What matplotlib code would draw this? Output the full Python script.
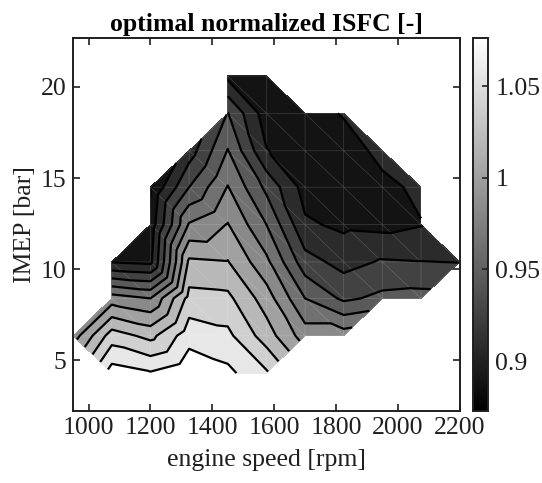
import numpy as np
import matplotlib
matplotlib.use("Agg")
import matplotlib.pyplot as plt
import matplotlib.tri as mtri
from matplotlib.colors import Normalize
from matplotlib.cm import ScalarMappable

plt.rcParams['font.family'] = ['Liberation Serif', 'DejaVu Serif']

# engine speed grid [rpm] and IMEP grid [bar]
speed = [950, 1075, 1200, 1325, 1450, 1575, 1700, 1825, 1950, 2075, 2200]
imep = [4.3, 6.35, 8.4, 10.4, 12.45, 14.5, 16.5, 18.55, 20.6]

nan = np.nan
# optimal normalized ISFC, one list per IMEP row (same order as speed), nan = not measured
isfc_04 = [nan, 1.070, 1.062, 1.075, 1.065, 1.043, nan, nan, nan, nan, nan]
isfc_06 = [0.970, 1.030, 1.014, 1.052, 1.045, 1.010, 0.970, 0.970, nan, nan, nan]
isfc_08 = [nan, 0.970, 0.960, 1.027, 1.025, 0.990, 0.940, 0.916, 0.925, 0.927, nan]
isfc_10 = [nan, 0.879, 0.875, 1.004, 1.001, 0.965, 0.908, 0.893, 0.902, 0.9005, 0.8995]
isfc_12 = [nan, nan, 0.868, 0.962, 0.981, 0.940, 0.883, 0.876, 0.874, 0.879, nan]
isfc_14 = [nan, nan, 0.860, 0.920, 0.961, 0.915, 0.872, 0.868, 0.874, 0.885, nan]
isfc_16 = [nan, nan, nan, 0.890, 0.941, 0.881, 0.868, 0.868, 0.887, nan, nan]
isfc_18 = [nan, nan, nan, nan, 0.921, 0.869, 0.869, 0.882, nan, nan, nan]
isfc_20 = [nan, nan, nan, nan, 0.875, 0.868, nan, nan, nan, nan, nan]

levels = [0.88, 0.90, 0.92, 0.94, 0.96, 0.98, 1.00, 1.02, 1.04, 1.06]
cbar_ticks = [0.9, 0.95, 1.0, 1.05]
cbar_labels = ["0.9", "0.95", "1", "1.05"]
clim = (0.873, 1.0765)

Z = np.array([isfc_04, isfc_06, isfc_08, isfc_10, isfc_12,
              isfc_14, isfc_16, isfc_18, isfc_20])
X, Y = np.meshgrid(speed, imep)
ok = ~np.isnan(Z)
ny, nx = Z.shape

# index of every valid grid point in the compressed point list
idx = -np.ones(Z.shape, dtype=int)
idx[ok] = np.arange(ok.sum())

# triangles from grid cells; cells with one missing corner give one triangle
tris = []
for j in range(ny - 1):
    for i in range(nx - 1):
        corners = [(j, i), (j, i + 1), (j + 1, i + 1), (j + 1, i)]
        valid = [ok[p] for p in corners]
        if all(valid):
            a, b, c, d = [idx[p] for p in corners]
            tris.append([a, b, d])
            tris.append([b, c, d])
        elif sum(valid) == 3:
            tris.append([idx[p] for p, v in zip(corners, valid) if v])

tri = mtri.Triangulation(X[ok], Y[ok], np.array(tris))
z = Z[ok]

FS = 18.5
INK = '#1f1f1f'

fig = plt.figure(figsize=(5.42, 4.83), dpi=100)
ax = fig.add_axes([0.135, 0.150, 0.713, 0.772])

# filled bands: a very dark pocket below 0.866, then one grey per contour band
fill_levels = [0.80, 0.866] + levels + [1.20]
greys = [6 / 255] + [(19 + 23.6 * k) / 255 for k in range(len(levels) + 1)]
ax.tricontourf(tri, z, levels=fill_levels, colors=[(g, g, g) for g in greys])
ax.triplot(tri, color='white', lw=0.5, alpha=0.18)
ax.tricontour(tri, z, levels=levels, colors='k', linewidths=1.6)

ax.set_xlim(950, 2200)
ax.set_ylim(2.25, 22.7)
ax.set_xticks([1000, 1200, 1400, 1600, 1800, 2000, 2200])
ax.set_yticks([5, 10, 15, 20])
ax.tick_params(direction='in', top=True, right=True, length=5,
               labelsize=FS, color=INK, labelcolor=INK, width=1.2, pad=5)
for s in ax.spines.values():
    s.set_linewidth(1.4)
    s.set_color(INK)
ax.set_xlabel("engine speed [rpm]", fontsize=FS, color=INK, labelpad=7)
ax.set_ylabel("IMEP [bar]", fontsize=FS, color=INK, labelpad=3)
ax.set_title("optimal normalized ISFC [-]", fontsize=FS, fontweight='bold', pad=5)

cax = fig.add_axes([0.873, 0.150, 0.028, 0.772])
sm = ScalarMappable(norm=Normalize(*clim), cmap='gray')
cb = fig.colorbar(sm, cax=cax, ticks=cbar_ticks)
cb.ax.set_yticklabels(cbar_labels)
cb.ax.tick_params(direction='in', length=4, labelsize=FS, color=INK,
                  labelcolor=INK, width=1.2, pad=5)
cb.outline.set_linewidth(1.4)
cb.outline.set_edgecolor(INK)

fig.savefig("out.png", dpi=100)
